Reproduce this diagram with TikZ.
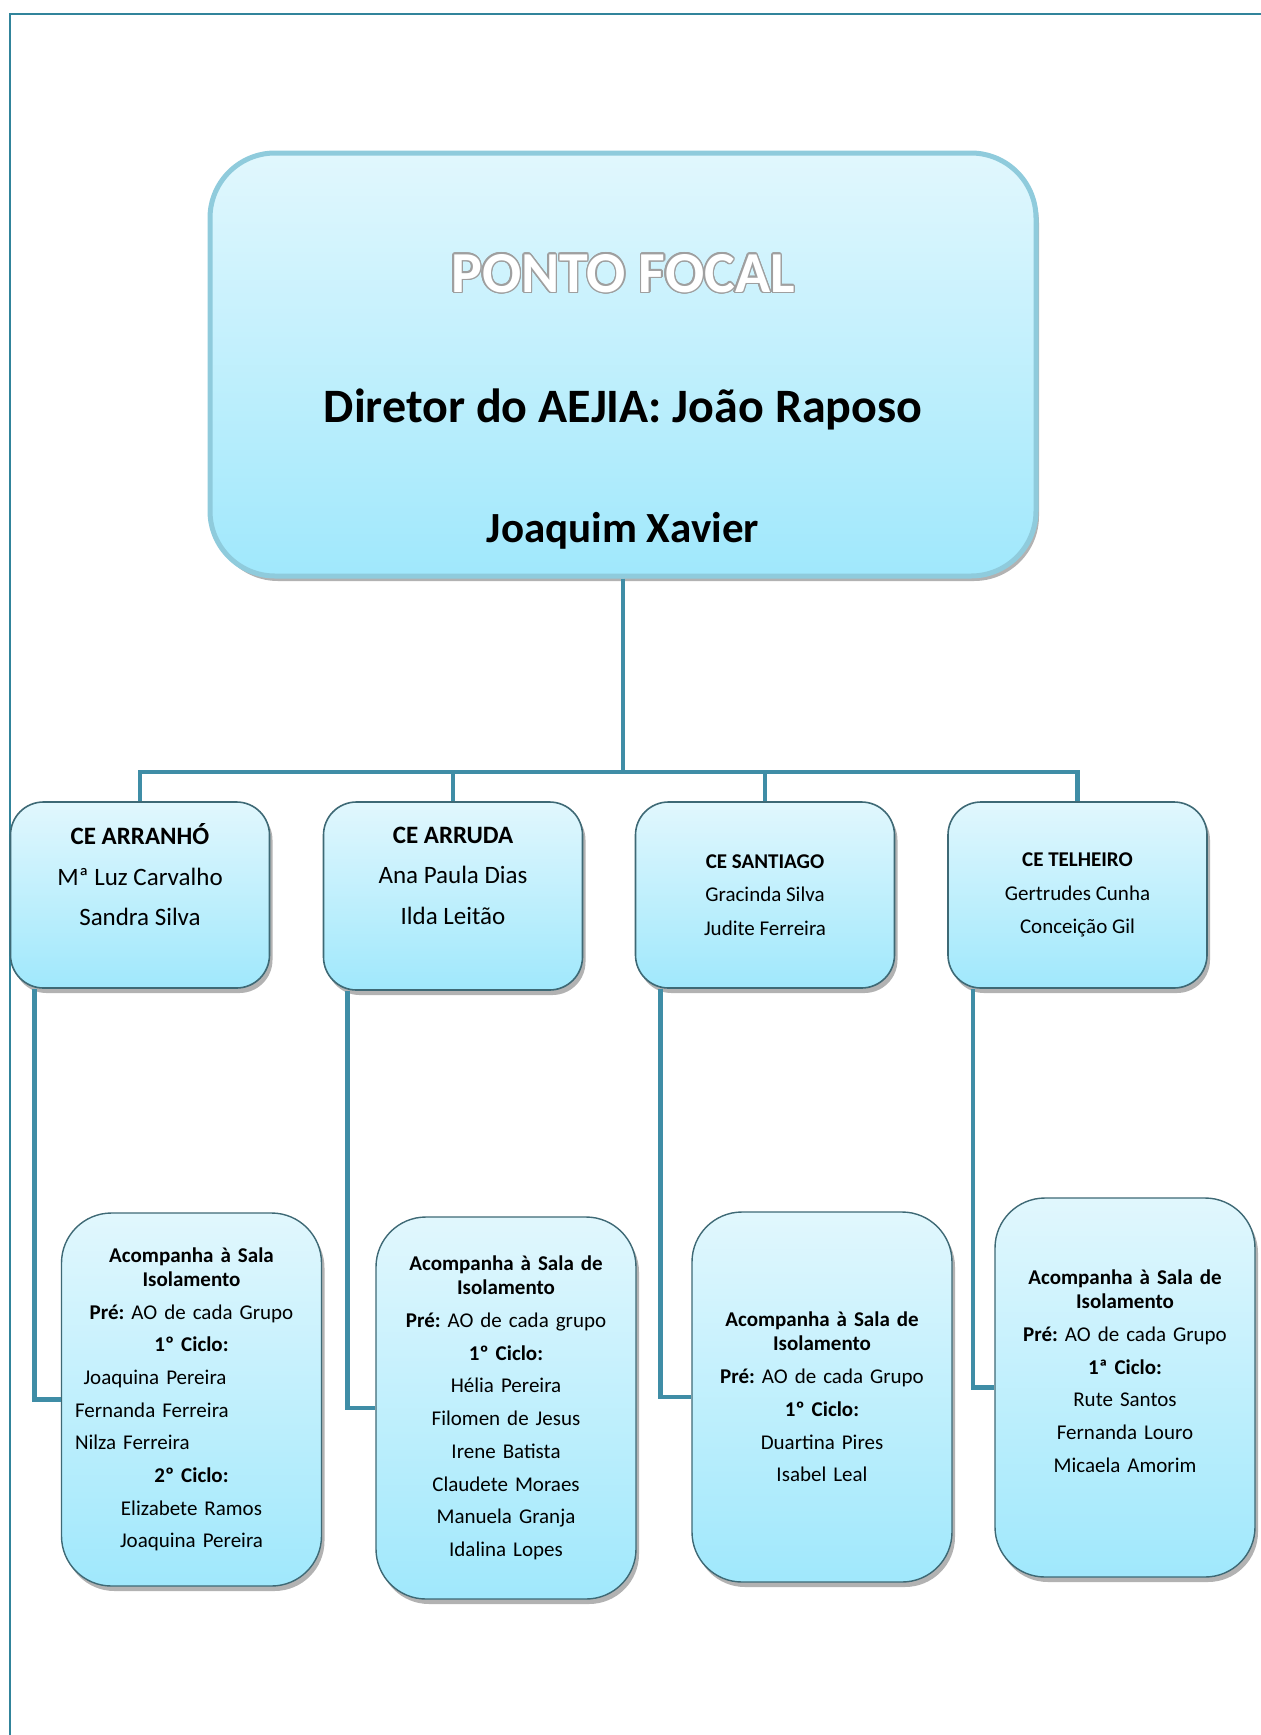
\documentclass[tikz,border=0pt]{standalone}
\usepackage{fontspec}
\setmainfont{Carlito}
\usepackage{contour}
\usetikzlibrary{shadows}
\frenchspacing

\definecolor{pageline}{HTML}{31849B}
\definecolor{linkblue}{HTML}{3F8DA6}
\definecolor{boxtop}{HTML}{E1F7FD}
\definecolor{boxbot}{HTML}{A0E8FC}
\definecolor{boxedge}{HTML}{3E6975}
\definecolor{mainedge}{HTML}{8FCBDC}

\contourlength{1.4pt}

\tikzset{
    link/.style={draw=linkblue, line width=4.5},
    softshadow/.style={drop shadow={shadow xshift=3pt, shadow yshift=-5pt, fill=black, opacity=0.3}},
    mainbox/.style={draw=mainedge, line width=5, rounded corners=65, top color=boxtop, bottom color=boxbot,
        minimum width=826, minimum height=423, softshadow},
    cebox/.style={draw=boxedge, line width=1.6, rounded corners=33, top color=boxtop, bottom color=boxbot,
        minimum width=259, minimum height=186, align=center, softshadow},
    salabox/.style={draw=boxedge, line width=1.4, rounded corners=50, top color=boxtop, bottom color=boxbot,
        minimum width=260, text width=236, align=center, softshadow,
        font=\fontsize{21}{32.7}\selectfont},
}

\begin{document}
\begin{tikzpicture}[x=1pt,y=-1pt]
    \useasboundingbox (0,0) rectangle (1261,1735);
    % page frame
    \draw[pageline, line width=2] (9.6,1735) -- (9.6,14) -- (1261,14);

    % ponto focal
    \node[mainbox] (main) at (623,364.5) {};
    \node[text=white, font=\fontsize{58}{60}\selectfont\bfseries] (focal) at (623,274) {\contour{gray!75}{PONTO FOCAL}};
    \node[font=\fontsize{48}{52}\selectfont\bfseries] (diretor) at (623,409) {Diretor do AEJIA: João Raposo};
    \node[font=\fontsize{43}{48}\selectfont\bfseries] (xavier) at (623,531) {Joaquim Xavier};

    % centros escolares
    \node[cebox, font=\fontsize{25}{40.5}\selectfont] (ce1) at (140,895)
        {\textbf{CE ARRANHÓ}\\Mª Luz Carvalho\\Sandra Silva\\\mbox{}};
    \node[cebox, minimum height=188, font=\fontsize{25}{40.5}\selectfont] (ce2) at (453,896)
        {\textbf{CE ARRUDA}\\Ana Paula Dias\\Ilda Leitão\\\mbox{}};
    \node[cebox, font=\fontsize{21}{33.5}\selectfont] (ce3) at (765,895)
        {\textbf{CE SANTIAGO}\\Gracinda Silva\\Judite Ferreira};
    \node[cebox, font=\fontsize{21}{33.5}\selectfont] (ce4) at (1077.5,895)
        {\textbf{CE TELHEIRO}\\Gertrudes Cunha\\Conceição Gil};

    % salas de isolamento
    \node[salabox, minimum height=373] (b1) at (191.5,1399.5)
        {\textbf{Acompanha à Sala}\\[-8.7pt]\textbf{Isolamento}\\\textbf{Pré:} AO de cada Grupo\\\textbf{1º Ciclo:}\\
         \makebox[\linewidth][l]{\hspace{10pt}Joaquina Pereira}\\
         \makebox[\linewidth][l]{\hspace{1.5pt}Fernanda Ferreira}\\
         \makebox[\linewidth][l]{\hspace{1.5pt}Nilza Ferreira}\\
         \textbf{2º Ciclo:}\\Elizabete Ramos\\Joaquina Pereira};
    \node[salabox, minimum height=382] (b2) at (506,1408)
        {\textbf{Acompanha à Sala de}\\[-8.7pt]\textbf{Isolamento}\\\textbf{Pré:} AO de cada grupo\\\textbf{1º Ciclo:}\\
         Hélia Pereira\\Filomen de Jesus\\Irene Batista\\Claudete Moraes\\Manuela Granja\\Idalina Lopes};
    \node[salabox, minimum height=370] (b3) at (822,1397)
        {\textbf{Acompanha à Sala de}\\[-8.7pt]\textbf{Isolamento}\\\textbf{Pré:} AO de cada Grupo\\\textbf{1º Ciclo:}\\
         Duartina Pires\\Isabel Leal};
    \node[salabox, minimum height=379] (b4) at (1125,1387.5)
        {\textbf{Acompanha à Sala de}\\[-8.7pt]\textbf{Isolamento}\\\textbf{Pré:} AO de cada Grupo\\\textbf{1ª Ciclo:}\\
         Rute Santos\\Fernanda Louro\\Micaela Amorim\\\mbox{}};

    % ligacoes
    \coordinate (bus) at (623,772);
    \draw[link] (main.south) -- (bus);
    \foreach \n in {ce1,ce2,ce3,ce4}
        \draw[link] (\n.north) |- (bus);
    \draw[link] ([xshift=25pt]ce1.south west) |- (b1.west);
    \draw[link] ([xshift=25pt]ce2.south west) |- (b2.west);
    \draw[link] ([xshift=26pt]ce3.south west) |- (b3.west);
    \draw[link] ([xshift=26pt]ce4.south west) |- (b4.west);
\end{tikzpicture}
\end{document}
